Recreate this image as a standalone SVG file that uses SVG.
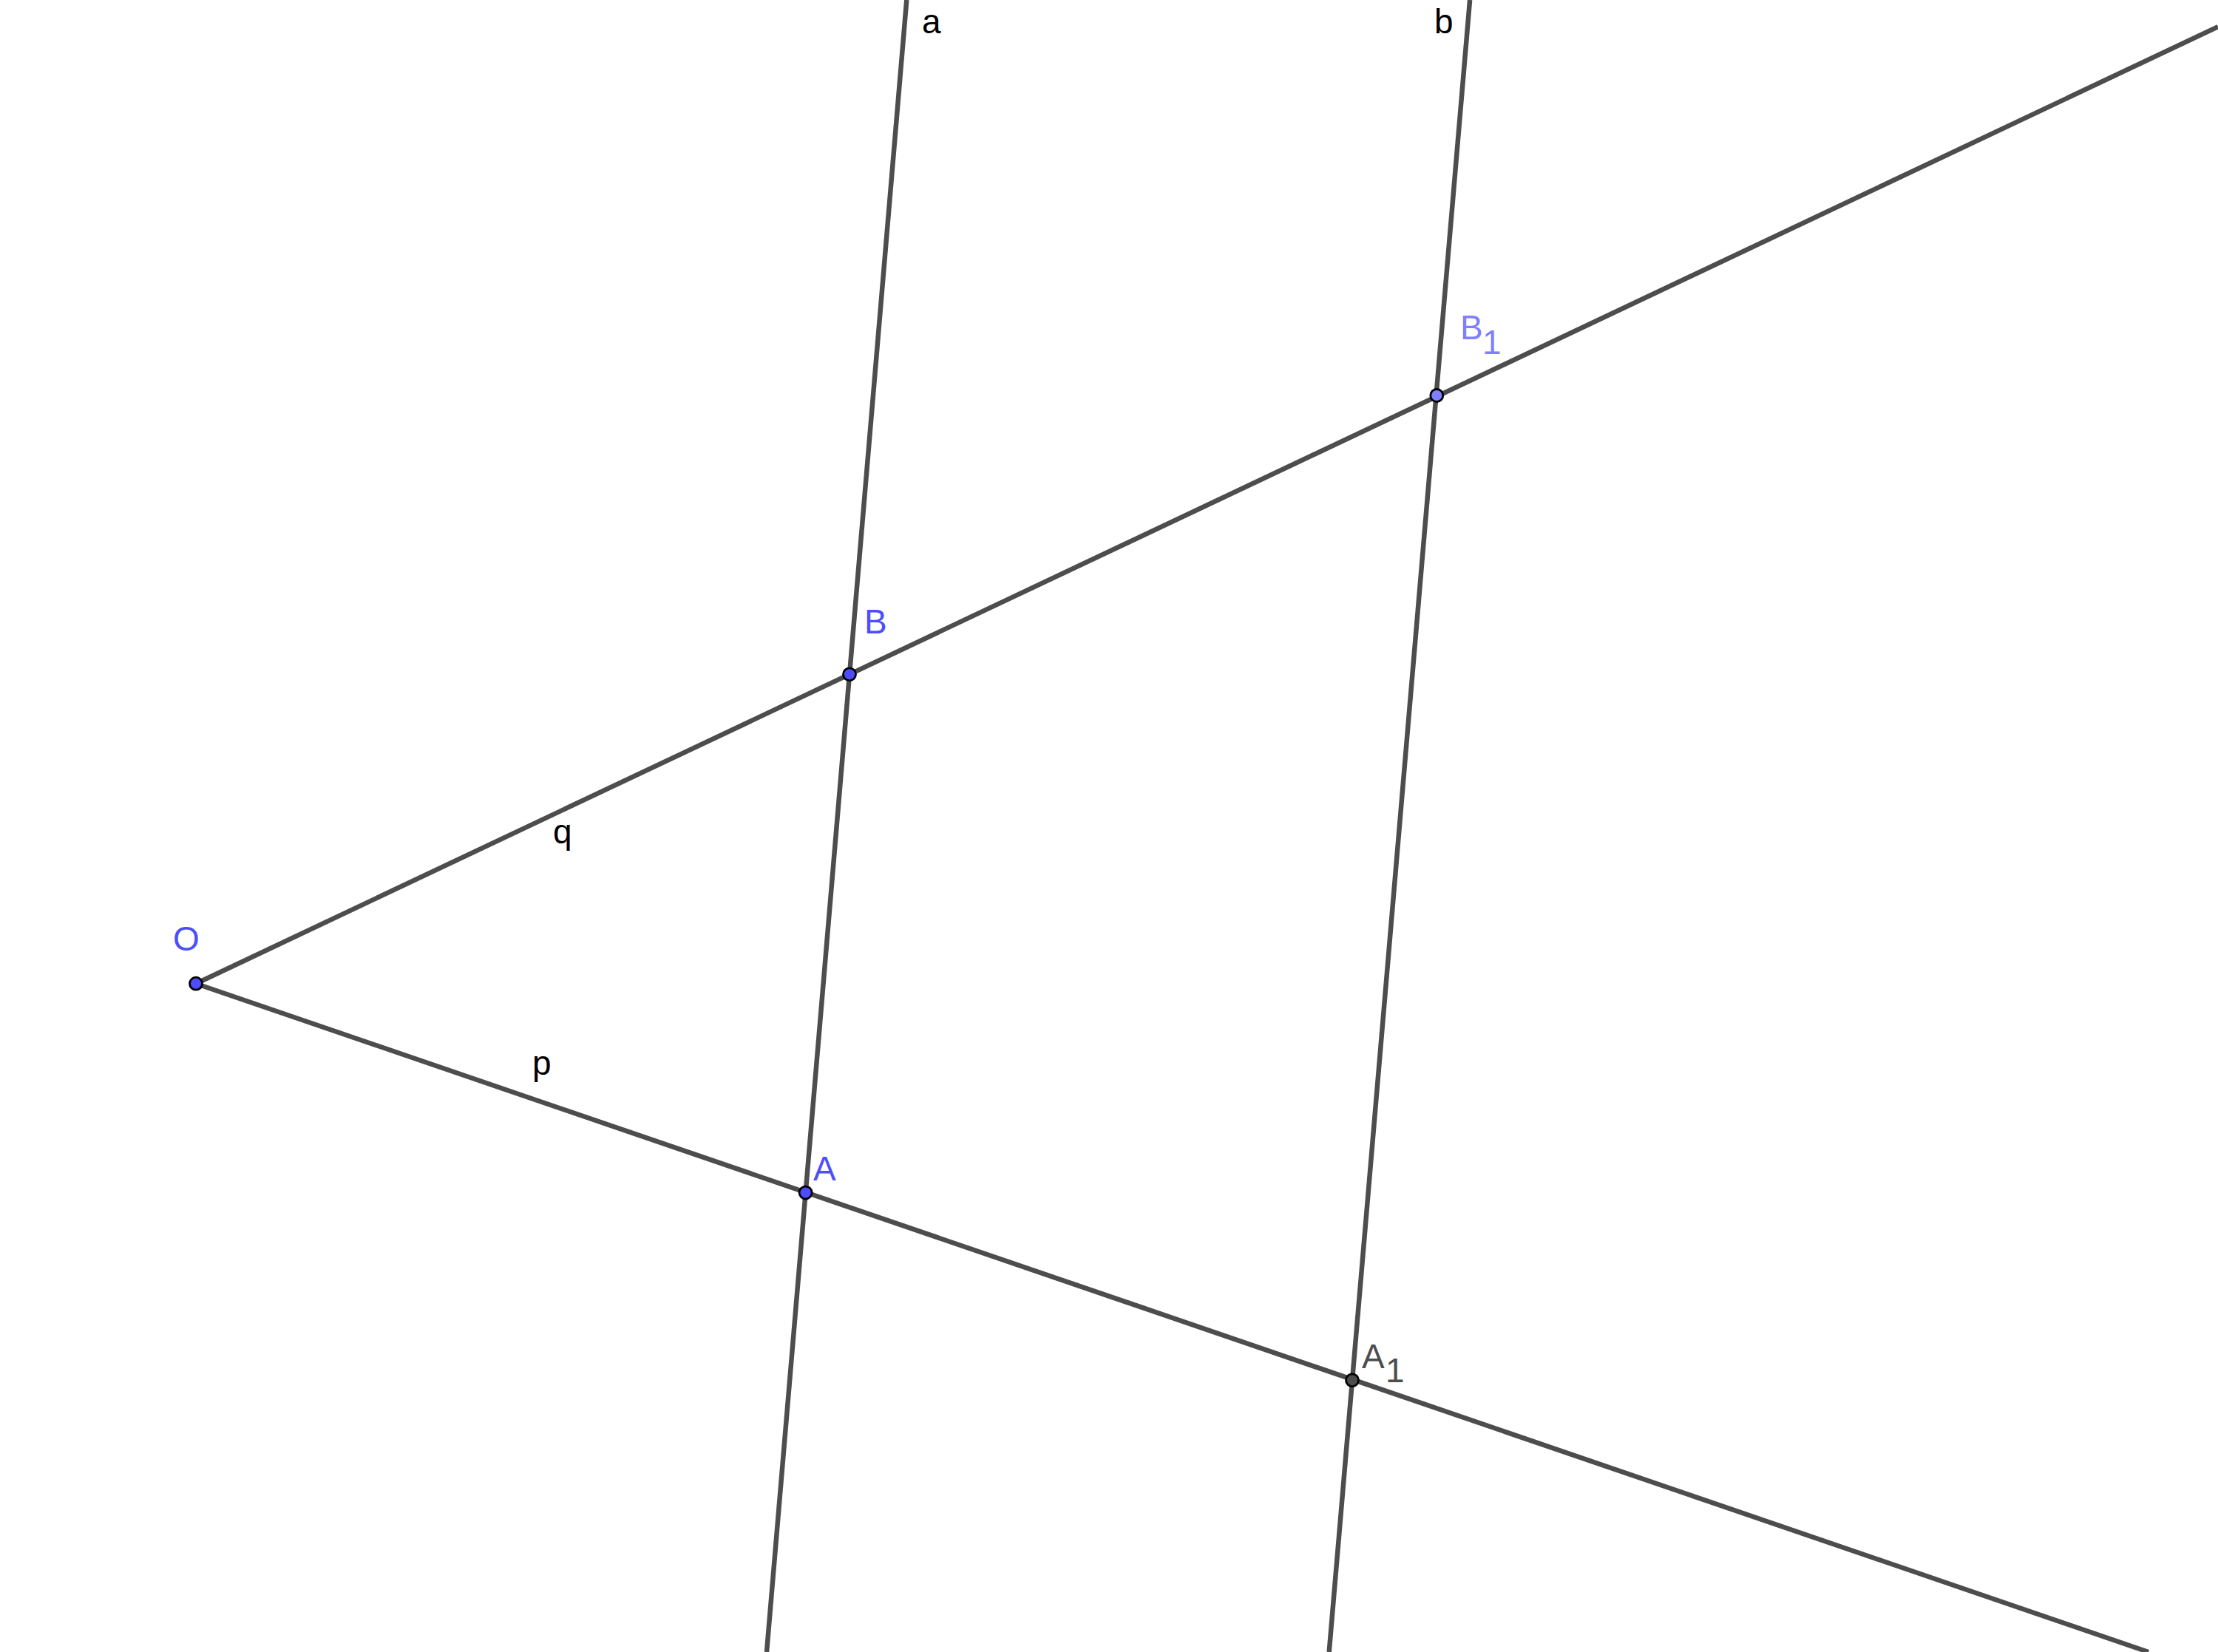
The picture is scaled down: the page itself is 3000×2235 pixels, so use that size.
<svg xmlns="http://www.w3.org/2000/svg" width="3000" height="2235" viewBox="0 0 3000 2235">
<style>
.ln{stroke:#4d4d4d;stroke-width:6.5;fill:none;stroke-linecap:butt}
.pt{stroke:#000;stroke-width:2.8}
.t{font-family:"Liberation Sans",Arial,sans-serif;font-size:46px}
.blue{fill:#4d4dff}
.lblue{fill:#7f7fff}
.dark{fill:#4d4d4d}
.blk{fill:#000}
</style>
<rect width="3000" height="2235" fill="#fff"/>
<g id="connectors">
<line id="line-a" class="ln" x1="1226.3" y1="0" x2="1037" y2="2235"/>
<line id="line-b" class="ln" x1="1988.1" y1="0" x2="1797.7" y2="2235"/>
<line id="ray-q" class="ln" x1="265" y1="1330.7" x2="3000" y2="36.2"/>
<line id="ray-p" class="ln" x1="265" y1="1330.7" x2="2906" y2="2235"/>
</g>
<g id="label-a"><text class="t blk" x="1247" y="45">a</text></g>
<g id="label-b"><text class="t blk" x="1940" y="45">b</text></g>
<g id="label-q"><text class="t blk" x="748" y="1141">q</text></g>
<g id="label-p"><text class="t blk" x="720" y="1454">p</text></g>
<g id="node-O">
<circle class="pt blue" cx="265" cy="1330.7" r="8.5"/>
<text class="t blue" x="234" y="1286">O</text>
</g>
<g id="node-A">
<circle class="pt blue" cx="1089.6" cy="1613.6" r="8.5"/>
<text class="t blue" x="1100" y="1597">A</text>
</g>
<g id="node-B">
<circle class="pt blue" cx="1149" cy="912.3" r="8.5"/>
<text class="t blue" x="1169" y="857">B</text>
</g>
<g id="node-A1">
<circle class="pt dark" cx="1829" cy="1867.3" r="8.5"/>
<text class="t dark" x="1842" y="1851">A<tspan x="1874" y="1870">1</tspan></text>
</g>
<g id="node-B1">
<circle class="pt lblue" cx="1943.3" cy="535" r="8.5"/>
<text class="t lblue" x="1975" y="459">B<tspan x="2005" y="479">1</tspan></text>
</g>
</svg>
